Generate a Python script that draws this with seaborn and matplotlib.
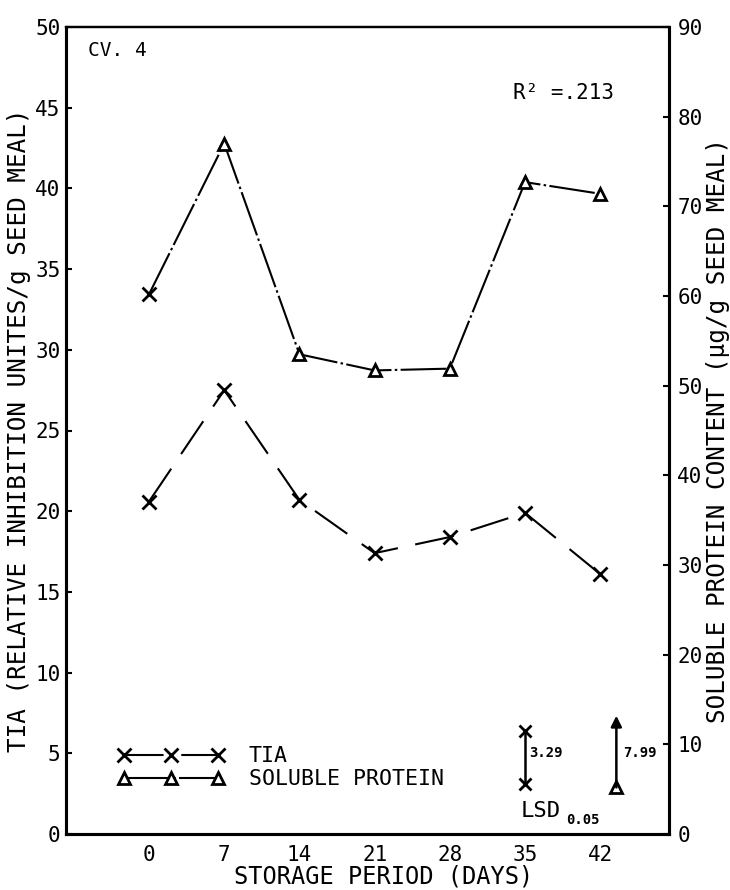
import matplotlib
matplotlib.use("Agg")
import matplotlib.pyplot as plt
import seaborn as sns
import pandas as pd
from matplotlib.lines import Line2D

# Storage period (days) and the two measured series
days = [0, 7, 14, 21, 28, 35, 42]
tia = [20.6, 27.5, 20.7, 17.4, 18.4, 19.9, 16.1]            # relative inhibition units / g seed meal
protein = [60.2, 77.0, 53.5, 51.7, 51.9, 72.7, 71.4]        # ug/g seed meal
protein_markers = ["x", "^", "^", "^", "^", "^", "^"]

x_ticks = [0, 7, 14, 21, 28, 35, 42]
left_ticks = [0, 5, 10, 15, 20, 25, 30, 35, 40, 45, 50]
right_ticks = [0, 10, 20, 30, 40, 50, 60, 70, 80, 90]

# Least significant differences (P = 0.05)
tia_lsd = 3.29
protein_lsd = 7.99
tia_lsd_base = 3.1
protein_lsd_base = 5.2
r_squared = ".213"

sns.set_style("white")
plt.rcParams["font.family"] = ["DejaVu Sans Mono", "DejaVu Sans"]
for key in ("text.color", "axes.labelcolor", "xtick.color", "ytick.color"):
    plt.rcParams[key] = "black"

W, H = 730, 890
fig = plt.figure(figsize=(W / 100, H / 100), dpi=100)
ax = fig.add_axes([66 / W, 1 - 834 / H, 603 / W, 807 / H])
ax2 = ax.twinx()

df = pd.DataFrame({"day": days, "tia": tia, "protein": protein, "marker": protein_markers})

tia_ls = (0, (19, 8.5))
prot_ls = (0, (22, 1.6, 1.2, 1.6))

sns.lineplot(data=df, x="day", y="tia", ax=ax, color="black", lw=1.5,
             linestyle=tia_ls, marker="x", markersize=10, markeredgewidth=2,
             markeredgecolor="black")

tri_idx = [i for i, m in enumerate(protein_markers) if m == "^"]
sns.lineplot(data=df, x="day", y="protein", ax=ax2, color="black", lw=1.5,
             linestyle=prot_ls, marker="^", markevery=tri_idx, markersize=9,
             markeredgewidth=2, markerfacecolor="white", markeredgecolor="black")
sns.scatterplot(data=df[df["marker"] == "x"], x="day", y="protein", ax=ax2,
                marker="x", color="black", s=100, linewidth=2, zorder=5)

# axes limits and ticks
ax.set_xlim(-7.73, 48.4)
ax.set_ylim(0, 50)
ax2.set_ylim(0, 90)
ax.set_xticks(x_ticks)
ax.set_yticks(left_ticks)
ax2.set_yticks(right_ticks)
ax.tick_params(axis="x", direction="in", length=4, width=1.5, labelsize=15, pad=8)
ax.tick_params(axis="y", direction="in", length=4, width=1.5, labelsize=15, pad=4)
ax2.tick_params(axis="y", direction="in", length=4, width=1.5, labelsize=15, pad=6)

for a in (ax, ax2):
    for side, sp in a.spines.items():
        sp.set_color("black")
        sp.set_linewidth(1.6 if side == "top" else 2.2)
    a.grid(False)

ax.set_xlabel("STORAGE PERIOD (DAYS)", fontsize=17)
ax.xaxis.set_label_coords(0.527, -0.038)
ax.set_ylabel("TIA (RELATIVE INHIBITION UNITES/g SEED MEAL)", fontsize=17.5)
ax2.set_ylabel("SOLUBLE PROTEIN CONTENT (\u03bcg/g SEED MEAL)", fontsize=17.5,
               rotation=90)
ax.yaxis.set_label_coords(-0.058, 0.5)
ax2.yaxis.set_label_coords(1.062, 0.5)

# legend
h_tia = Line2D([], [], color="black", lw=1.5, ls=tia_ls, marker="x", ms=10, mew=2)
h_prot = Line2D([], [], color="black", lw=1.5, ls=prot_ls, marker="^", ms=9, mew=2,
                mfc="white", mec="black")
ax.legend([h_tia, h_prot], ["TIA", "SOLUBLE PROTEIN"], loc="center left",
          bbox_to_anchor=(0.085, 0.082), numpoints=3, handlelength=5.0,
          frameon=False, fontsize=15.5, labelspacing=0.15, handletextpad=1.1,
          borderpad=0, borderaxespad=0)

# LSD bars
ax.plot([35, 35], [tia_lsd_base, tia_lsd_base + tia_lsd], color="black", lw=1.8,
        marker="x", ms=9, mew=2)
ax.text(35.4, tia_lsd_base + tia_lsd / 2 + 0.3, f"{tia_lsd:.2f}", fontsize=10,
        fontweight="bold", va="center", ha="left")
ax2.annotate("", xy=(43.5, protein_lsd_base + protein_lsd),
             xytext=(43.5, protein_lsd_base),
             arrowprops=dict(arrowstyle="-|>", color="black", lw=1.8,
                             mutation_scale=16, shrinkA=0, shrinkB=0))
ax2.plot([43.5], [protein_lsd_base], marker="^", ms=9, mew=2, mfc="white",
         mec="black", color="black")
ax.text(44.1, 5.0, f"{protein_lsd:.2f}", fontsize=10, fontweight="bold",
        va="center", ha="left")
ax.text(34.6, 1.45, "LSD", fontsize=16, va="center", ha="left")
ax.text(38.8, 0.85, "0.05", fontsize=10, fontweight="bold", va="center", ha="left")

ax.text(0.036, 0.971, "CV. 4", transform=ax.transAxes, fontsize=14,
        va="center", ha="left")
ax.text(0.741, 0.918, "R\u00b2 =" + r_squared, transform=ax.transAxes, fontsize=15,
        va="center", ha="left")

fig.savefig("out.png", dpi=100)
